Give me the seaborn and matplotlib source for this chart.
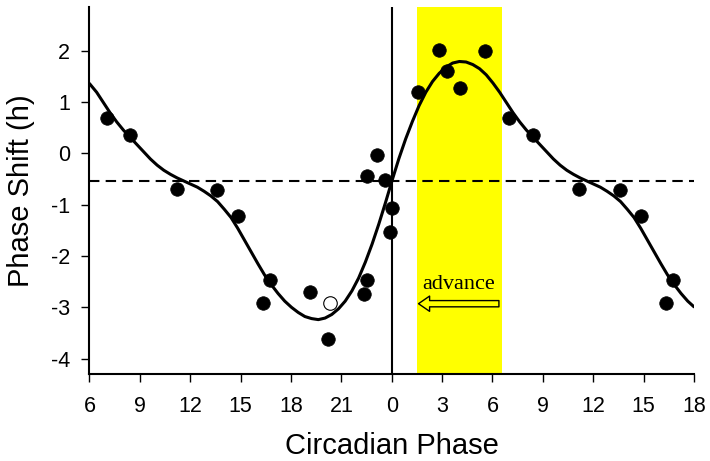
import pandas as pd
import matplotlib
matplotlib.use("Agg")
import matplotlib.pyplot as plt
from matplotlib.patches import FancyArrowPatch
import seaborn as sns

# measured phase shifts (double plotted over 36 h)
phase = [7.02, 8.41, 11.19, 13.59, 14.84, 16.77, 16.31, 19.13, 20.22, 22.55,
         22.37, 22.55, 23.10, 23.60, 24.03, 23.90, 25.58, 26.83, 27.29, 28.09,
         29.54, 31.00, 32.43, 35.17, 37.60, 38.85, 40.77, 40.32]
shift = [0.69, 0.36, -0.69, -0.72, -1.22, -2.46, -2.92, -2.71, -3.61, -2.46,
         -2.75, -0.44, -0.03, -0.51, -1.07, -1.53, 1.20, 2.01, 1.60, 1.27,
         2.00, 0.69, 0.36, -0.69, -0.72, -1.22, -2.46, -2.92]

# the one open symbol
open_phase = [20.32]
open_shift = [-2.92]

# fitted curve
fit_phase = [6.00, 6.43, 6.83, 7.23, 7.63, 8.03, 8.43, 8.83, 9.23, 9.63,
             10.03, 10.43, 10.83, 11.23, 11.63, 12.03, 12.43, 12.83, 13.23, 13.63,
             14.03, 14.43, 14.83, 15.23, 15.63, 16.03, 16.43, 16.83, 17.23, 17.63,
             18.03, 18.43, 18.83, 19.23, 19.63, 20.03, 20.43, 20.83, 21.23, 21.63,
             22.03, 22.43, 22.83, 23.23, 23.63, 24.03, 24.43, 24.83, 25.23, 25.63,
             26.03, 26.43, 26.83, 27.23, 27.63, 28.03, 28.43, 28.83, 29.23, 29.63,
             30.03, 30.43, 30.83, 31.23, 31.63, 32.03, 32.43, 32.83, 33.23, 33.63,
             34.03, 34.43, 34.83, 35.23, 35.63, 36.03, 36.43, 36.83, 37.23, 37.63,
             38.03, 38.43, 38.83, 39.23, 39.63, 40.03, 40.43, 40.83, 41.23, 41.63,
             42.00]
fit_shift = [1.36, 1.19, 0.99, 0.79, 0.61, 0.45, 0.31, 0.17, 0.03, -0.11,
             -0.23, -0.33, -0.41, -0.48, -0.54, -0.60, -0.66, -0.74, -0.83, -0.94,
             -1.09, -1.25, -1.46, -1.69, -1.92, -2.15, -2.37, -2.56, -2.73, -2.88,
             -3.00, -3.10, -3.18, -3.22, -3.24, -3.21, -3.14, -3.03, -2.88, -2.68,
             -2.43, -2.12, -1.77, -1.38, -0.96, -0.52, -0.10, 0.28, 0.62, 0.93,
             1.19, 1.40, 1.56, 1.68, 1.76, 1.79, 1.78, 1.73, 1.65, 1.53,
             1.37, 1.19, 0.99, 0.79, 0.61, 0.45, 0.31, 0.17, 0.03, -0.11,
             -0.23, -0.33, -0.41, -0.48, -0.54, -0.60, -0.66, -0.74, -0.83, -0.94,
             -1.09, -1.25, -1.46, -1.69, -1.92, -2.15, -2.37, -2.56, -2.73, -2.88,
             -2.99]

baseline = -0.54
light_start, light_end = 25.5, 30.55
tick_pos = [6, 9, 12, 15, 18, 21, 24, 27, 30, 33, 36, 39, 42]
tick_lab = ["6", "9", "12", "15", "18", "21", "0", "3", "6", "9", "12", "15", "18"]

pts = pd.DataFrame({"phase": phase, "shift": shift})
opn = pd.DataFrame({"phase": open_phase, "shift": open_shift})
fit = pd.DataFrame({"phase": fit_phase, "shift": fit_shift})

sns.set_theme(style="ticks")
plt.rcParams["font.family"] = ["Liberation Sans", "DejaVu Sans"]
plt.rcParams["axes.unicode_minus"] = False
plt.rcParams["text.color"] = "black"
plt.rcParams["axes.labelcolor"] = "black"

fig = plt.figure(figsize=(7.1, 4.61), dpi=100)
ax = fig.add_axes([0.126, 0.1887, 0.8514, 0.7959])

ax.axvspan(light_start, light_end, color="#FFFF00", lw=0, zorder=0)
ax.axvline(24, color="black", lw=1.5, zorder=1)
ax.axhline(baseline, color="black", lw=1.5, dashes=(5, 3), zorder=1)

sns.lineplot(data=fit, x="phase", y="shift", color="black", lw=2.2,
             estimator=None, ax=ax, zorder=2)
sns.scatterplot(data=pts, x="phase", y="shift", color="black", s=95,
                edgecolor="black", linewidth=0.5, ax=ax, zorder=3)
sns.scatterplot(data=opn, x="phase", y="shift", color="white", s=95,
                edgecolor="black", linewidth=0.8, ax=ax, zorder=3)

arrow = FancyArrowPatch((light_end, -2.93), (25.43, -2.93),
                        arrowstyle="simple,head_length=0.8,head_width=1.1,tail_width=0.45",
                        mutation_scale=10, fc="none", ec="black", lw=1.0, zorder=4)
ax.add_patch(arrow)
ax.text(28.0, -2.55, "advance", ha="center", va="center", fontsize=16,
        family=["Liberation Serif", "DejaVu Serif"], zorder=4)

ax.set_xlim(6, 42)
ax.set_ylim(-4.3, 2.85)
ax.set_xticks(tick_pos)
ax.set_xticklabels(tick_lab)
ax.set_yticks([-4, -3, -2, -1, 0, 1, 2])

ax.tick_params(axis="x", length=6, width=1, pad=10, labelsize=15.5,
               colors="black")
ax.tick_params(axis="y", length=6, width=1, pad=8, labelsize=15.5,
               colors="black")
for side in ["top", "right"]:
    ax.spines[side].set_visible(False)
for side in ["left", "bottom"]:
    ax.spines[side].set_linewidth(1.5)
    ax.spines[side].set_color("black")

ax.set_xlabel("Circadian Phase", fontsize=21)
ax.set_ylabel("Phase Shift (h)", fontsize=21)
ax.xaxis.set_label_coords(0.5, -0.196)
ax.xaxis.label.set_va("center")
ax.yaxis.set_label_coords(-0.113, 0.5)
ax.yaxis.label.set_va("center")

fig.savefig("out.png", dpi=100)
